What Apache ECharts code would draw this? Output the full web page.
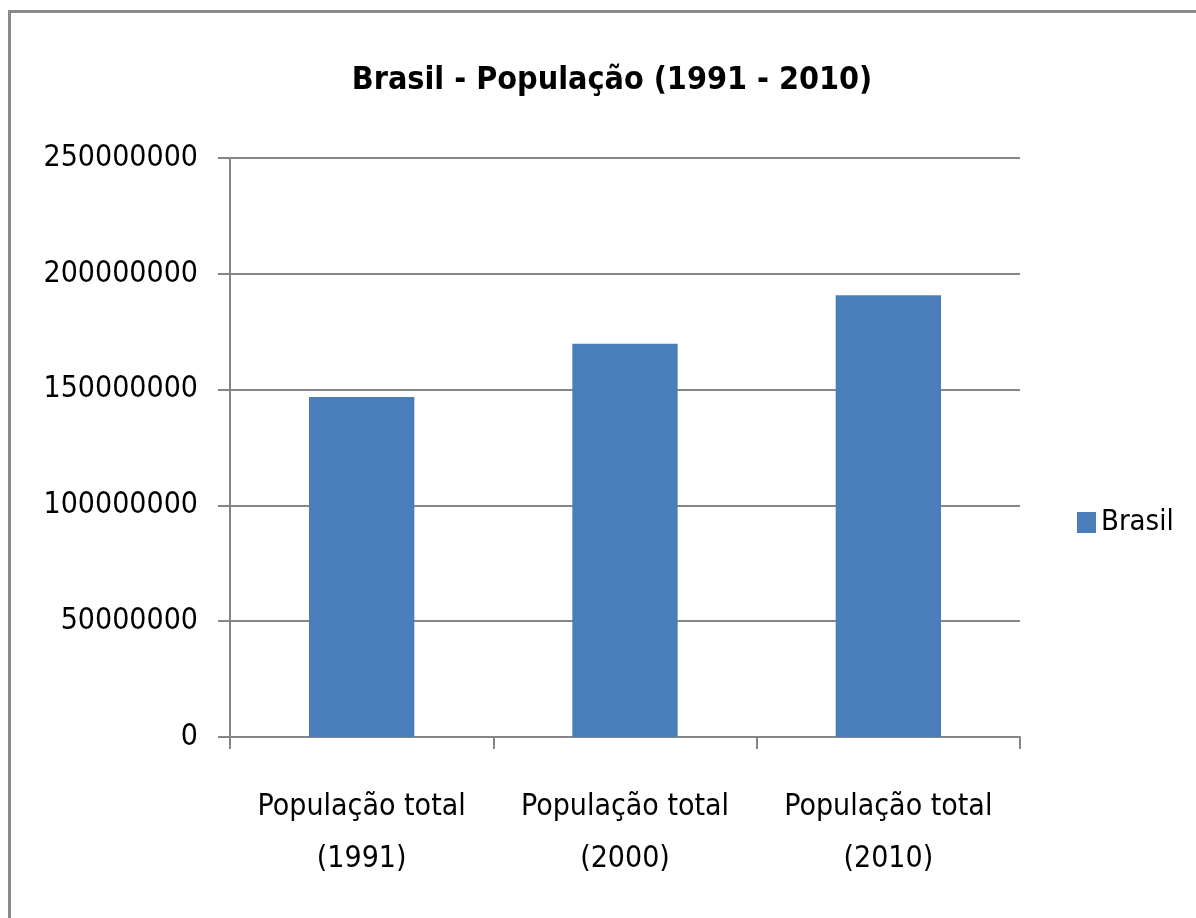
<!DOCTYPE html>
<html>
<head>
<meta charset="utf-8">
<title>Brasil - População (1991 - 2010)</title>
<script src="https://cdn.jsdelivr.net/npm/echarts@6/dist/echarts.min.js"></script>
<style>
    html, body { margin: 0; padding: 0; background: #fff; }
    #frame {
        position: absolute;
        left: 8px;
        top: 10px;
        width: 1200px;
        height: 920px;
        border-left: 3px solid #8a8a8a;
        border-top: 3px solid #8a8a8a;
    }
    #main { position: absolute; left: 0; top: 0; width: 1196px; height: 918px; }
</style>
</head>
<body>
<div id="frame"></div>
<div id="main"></div>
<script>
// 数据
var categories = ["População total\n(1991)", "População total\n(2000)", "População total\n(2010)"];
var populacao = [146825475, 169799170, 190755799];
var yTicks = [0, 50000000, 100000000, 150000000, 200000000, 250000000];

(function() {
    var myChart = echarts.init(document.getElementById("main"));
    var fonte = "'DejaVu Sans Condensed', 'DejaVu Sans', sans-serif";

    var option = {
        animation: false,
        title: {
            text: "Brasil - População (1991 - 2010)",
            left: 607,
            textAlign: "center",
            top: 60,
            textStyle: {
                fontFamily: fonte,
                fontWeight: "bold",
                fontSize: 32,
                color: "#000"
            }
        },
        legend: {
            left: 1072,
            top: 503,
            orient: "vertical",
            icon: "rect",
            itemWidth: 19,
            itemHeight: 21,
            itemGap: 8,
            textStyle: {
                fontFamily: fonte,
                fontSize: 29,
                color: "#000"
            },
            data: ["Brasil"]
        },
        grid: {
            left: 230,
            right: 176,
            top: 158,
            bottom: 181
        },
        xAxis: {
            type: "category",
            data: categories,
            axisLine: { lineStyle: { color: "#868686", width: 2 } },
            axisTick: { show: true, length: 12, interval: 0, lineStyle: { color: "#868686", width: 2 } },
            axisLabel: {
                interval: 0,
                margin: 44,
                lineHeight: 52,
                fontFamily: fonte,
                fontSize: 30,
                color: "#000"
            }
        },
        yAxis: {
            type: "value",
            min: 0,
            max: yTicks[yTicks.length - 1],
            interval: yTicks[1] - yTicks[0],
            axisLine: { show: true, lineStyle: { color: "#868686", width: 2 } },
            axisTick: { show: true, length: 12, lineStyle: { color: "#868686", width: 2 } },
            splitLine: { lineStyle: { color: "#868686", width: 2 } },
            axisLabel: {
                margin: 32,
                fontFamily: fonte,
                fontSize: 30,
                color: "#000",
                formatter: function(v) { return String(v); }
            }
        },
        series: [
            {
                name: "Brasil",
                type: "bar",
                barWidth: "40%",
                data: populacao,
                itemStyle: { color: "#4a7ebb" }
            }
        ]
    };

    myChart.setOption(option);
    window.addEventListener("resize", function() {
        myChart.resize();
    });
})();
</script>
</body>
</html>
